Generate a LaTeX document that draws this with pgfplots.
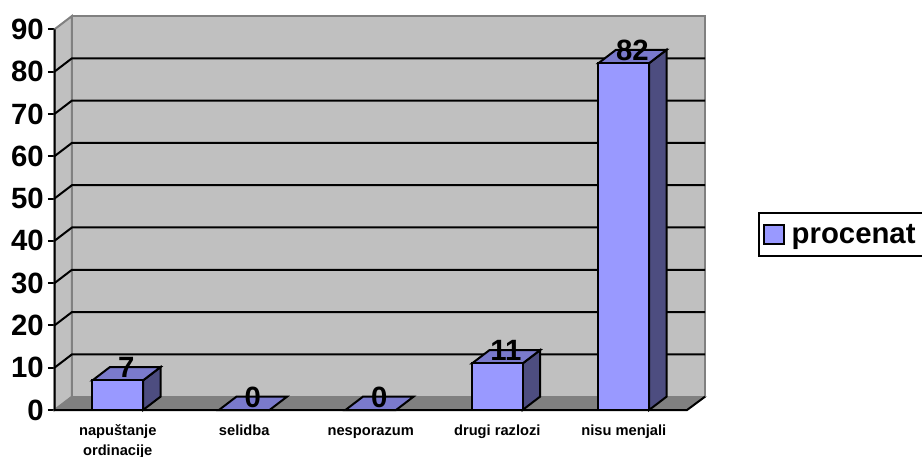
\documentclass[border=0pt]{standalone}
\usepackage{pgfplots}
\pgfplotsset{compat=1.18}
\usepackage{pgfplotstable}
\usepackage{fontspec}
\setmainfont{Liberation Sans}
\definecolor{wall}{HTML}{C0C0C0}
\definecolor{edge}{HTML}{808080}
\definecolor{front}{HTML}{9999FF}
\definecolor{topc}{HTML}{7A7ACC}
\definecolor{sidec}{HTML}{4D4D80}
\pgfplotstableread{
x v
0 7
1 0
2 0
3 11
4 82
}\bars
\begin{document}
\begin{tikzpicture}
\useasboundingbox (0,0) rectangle (691.5pt,342.75pt);
\begin{axis}[
  at={(40.875pt,35.25pt)}, anchor=south west,
  scale only axis, width=487.875pt, height=295.5pt,
  xmin=-0.5, xmax=4.642, ymin=0, ymax=93.15,
  clip=false, no markers,
  axis line style={draw=none},
  /pgf/number format/assume math mode=true,
  tick pos=left, tick align=outside,
  ytick={0,10,...,90},
  xtick={0,1,2,3,4},
  minor xtick={-0.5,0.5,1.5,2.5,3.5,4.5},
  xticklabels={\rule{0pt}{9.75pt}napuštanje\\[1pt]ordinacije,selidba,nesporazum,drugi razlozi,nisu menjali},
  major tick length=5pt,
  minor tick length=5pt,
  xtick style={draw=none},
  ytick style={black,line width=1.5pt},
  every minor tick/.style={black,line width=1.5pt},
  x tick label style={font=\fontsize{11}{14.5}\selectfont\bfseries,align=center,anchor=north,yshift=-4pt,inner ysep=0pt,
     execute at begin node={\strut}},
  y tick label style={font=\fontsize{22}{23}\selectfont\bfseries,anchor=east,xshift=0.5pt},
  legend style={at={(1.0815,0.445)},anchor=west,draw=black,line width=1.5pt,fill=white,
     font=\fontsize{22}{23}\selectfont\bfseries,inner xsep=3pt,inner ysep=6pt,
     nodes={text width=100pt,align=left}},
  legend cell align=left,
]
% walls and floor
\addplot[fill=wall,draw=edge,line width=1.5pt,forget plot] coordinates {(-0.362,3.15)(4.642,3.15)(4.642,93.15)(-0.362,93.15)} -- cycle;
\addplot[fill=wall,draw=edge,line width=1.5pt,forget plot] coordinates {(-0.5,0)(-0.362,3.15)(-0.362,93.15)(-0.5,90)} -- cycle;
\addplot[fill=edge,draw=edge,line width=1pt,forget plot] coordinates {(-0.5,0)(4.5,0)(4.642,3.15)(-0.362,3.15)} -- cycle;
% gridlines
\addplot[black,line width=1.5pt,forget plot] coordinates {(-0.5,10)(-0.362,13.15)(4.642,13.15)};
\addplot[black,line width=1.5pt,forget plot] coordinates {(-0.5,20)(-0.362,23.15)(4.642,23.15)};
\addplot[black,line width=1.5pt,forget plot] coordinates {(-0.5,30)(-0.362,33.15)(4.642,33.15)};
\addplot[black,line width=1.5pt,forget plot] coordinates {(-0.5,40)(-0.362,43.15)(4.642,43.15)};
\addplot[black,line width=1.5pt,forget plot] coordinates {(-0.5,50)(-0.362,53.15)(4.642,53.15)};
\addplot[black,line width=1.5pt,forget plot] coordinates {(-0.5,60)(-0.362,63.15)(4.642,63.15)};
\addplot[black,line width=1.5pt,forget plot] coordinates {(-0.5,70)(-0.362,73.15)(4.642,73.15)};
\addplot[black,line width=1.5pt,forget plot] coordinates {(-0.5,80)(-0.362,83.15)(4.642,83.15)};
% axis lines
\addplot[black,line width=1.5pt,forget plot] coordinates {(-0.5,90)(-0.5,0)(4.5,0)(4.642,3.15)};
% bar sides and tops
\addplot[fill=sidec,draw=black,line width=1.5pt,forget plot] coordinates {(0.2,0)(0.338,3.15)(0.338,10.15)(0.2,7)} -- cycle;
\addplot[fill=topc,draw=black,line width=1.5pt,forget plot] coordinates {(-0.2,7)(0.2,7)(0.338,10.15)(-0.062,10.15)} -- cycle;
\addplot[fill=topc,draw=black,line width=1.5pt,forget plot] coordinates {(0.8,0)(1.2,0)(1.338,3.15)(0.938,3.15)} -- cycle;
\addplot[fill=topc,draw=black,line width=1.5pt,forget plot] coordinates {(1.8,0)(2.2,0)(2.338,3.15)(1.938,3.15)} -- cycle;
\addplot[fill=sidec,draw=black,line width=1.5pt,forget plot] coordinates {(3.2,0)(3.338,3.15)(3.338,14.15)(3.2,11)} -- cycle;
\addplot[fill=topc,draw=black,line width=1.5pt,forget plot] coordinates {(2.8,11)(3.2,11)(3.338,14.15)(2.938,14.15)} -- cycle;
\addplot[fill=sidec,draw=black,line width=1.5pt,forget plot] coordinates {(4.2,0)(4.338,3.15)(4.338,85.15)(4.2,82)} -- cycle;
\addplot[fill=topc,draw=black,line width=1.5pt,forget plot] coordinates {(3.8,82)(4.2,82)(4.338,85.15)(3.938,85.15)} -- cycle;
% bar fronts with labels
\addplot[ybar,bar width=38.25pt,bar shift=0pt,fill=front,draw=black,line width=1.5pt,
  legend image code/.code={\draw[fill=front,draw=black,line width=1.5pt] (4pt,-7pt) rectangle (19pt,7pt);},
  nodes near coords,
  every node near coord/.style={anchor=center,xshift=6.4pt,yshift=9.75pt,
     font=\fontsize{22}{23}\selectfont\bfseries,text=black,inner sep=0pt},
] table[x=x,y=v] {\bars};
\addlegendentry{\hspace*{3pt}procenat}
\end{axis}
\end{tikzpicture}
\end{document}
